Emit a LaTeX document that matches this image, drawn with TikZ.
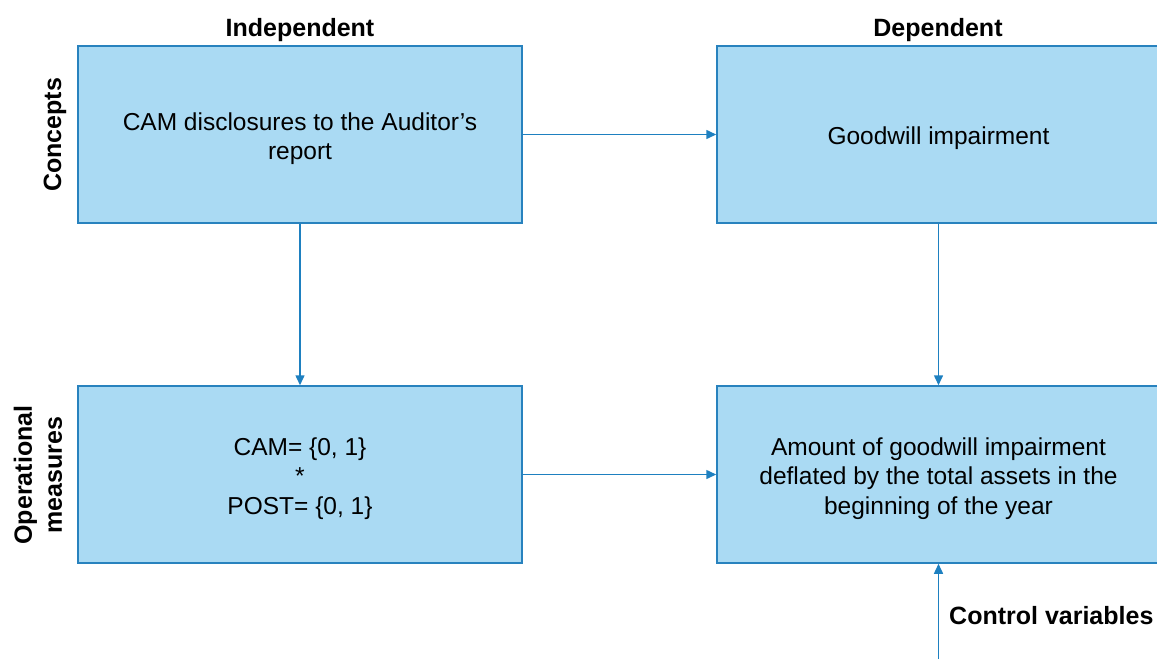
\documentclass[tikz,border=0pt]{standalone}
\usepackage{fontspec}
\setmainfont{Liberation Sans}
\usetikzlibrary{arrows.meta}
\definecolor{boxfill}{RGB}{170,218,243}
\definecolor{boxline}{RGB}{40,130,190}
\definecolor{arrowc}{RGB}{30,128,192}
\tikzset{
  x=1pt,y=-1pt,
  cbox/.style={draw=boxline, line width=1.5pt, fill=boxfill, minimum width=444pt, minimum height=177pt, inner sep=0pt},
  rbox/.style={cbox, minimum width=443pt},
  btext/.style={align=center, font=\fontsize{24.5}{29.5}\selectfont, inner sep=0pt, yshift=-4pt},
  conn/.style={draw=arrowc, line width=1.5pt, -{Triangle[length=10pt,width=9pt]}},
  hdr/.style={font=\bfseries\fontsize{25}{30}\selectfont, inner sep=0pt},
}
\begin{document}
\begin{tikzpicture}
\useasboundingbox (0,0) rectangle (1157,659);
\clip (0,0) rectangle (1157,659);
\node[cbox, label={[btext]center:{CAM disclosures to the Auditor’s\\report}}] (a) at (300,134.5) {};
\node[rbox, label={[btext]center:{Goodwill impairment}}] (b) at (938.5,134.5) {};
\node[cbox, label={[btext]center:{CAM= \{0, 1\}\\*\\POST= \{0, 1\}}}] (c) at (300,474.5) {};
\node[rbox, label={[btext]center:{Amount of goodwill impairment\\deflated by the total assets in the\\beginning of the year}}] (d) at (938.5,474.5) {};
\node[hdr] (h1) at (300,30) {Independent};
\node[hdr] (h2) at (938,30) {Dependent};
\node[hdr, rotate=90] (v1) at (55,135) {Concepts};
\node[hdr, rotate=90, align=center] (v2) at (38,475) {Operational\\measures};
\node[hdr, anchor=west] (cv) at (949,616) {Control variables};
\coordinate (cs) at (938.5,659);
\draw[conn] (a.east) -- (b.west);
\draw[conn] (c.east) -- (d.west);
\draw[conn] (a.south) -- (c.north);
\draw[conn] (b.south) -- (d.north);
\draw[conn] (cs) -- (d.south);
\end{tikzpicture}
\end{document}
